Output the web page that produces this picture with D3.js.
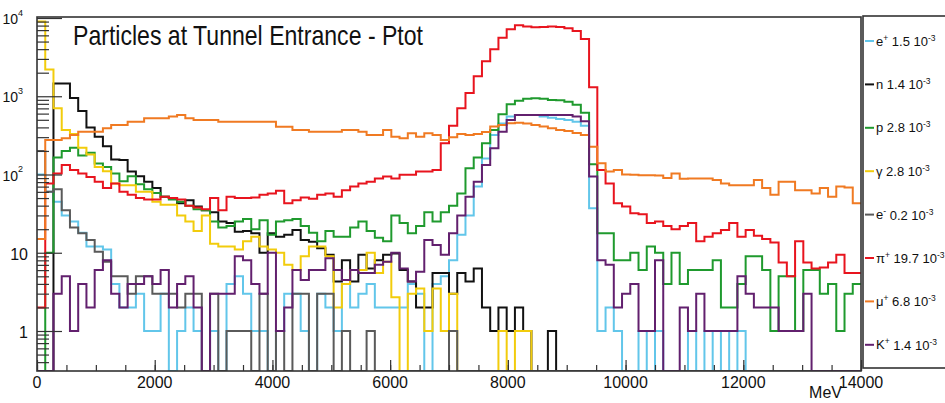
<!DOCTYPE html>
<html>
<head>
<meta charset="utf-8">
<script src="https://cdn.jsdelivr.net/npm/d3@7"></script>
<style>
  body { margin: 0; background: #fff; }
  text { font-family: "Liberation Sans Narrow", "Liberation Sans", Arial, sans-serif; fill: #111; }
</style>
</head>
<body>
<svg id="chart" width="945" height="403"></svg>
<script>
// Total momentum spectra at the tunnel entrance, 100 bins of 140 MeV from 0 to 14000 MeV.
const binWidth = 140;
const nBins = 100;

const ePlus = [
  100, 60, 45, 30, 25, 18, 12, 12, 11, 4,
  2, 2, 3, 1, 1, 3, 0, 1, 2, 1,
  0, 1, 0, 4, 5, 3, 1, 1, 0, 1,
  3, 3, 1, 0, 3, 2, 1, 4, 2, 3,
  4, 2, 2, 2, 2, 4, 3, 0, 4, 5,
  8, 17, 30, 70, 160, 320, 450, 550, 575, 575,
  575, 550, 530, 513, 497, 473, 420, 37, 1, 2,
  1, 0, 0, 1, 0, 1, 0, 0, 0, 1,
  0, 1, 0, 1, 0, 1, 0, 0, 0, 0,
  0, 0, 0, 0, 0, 0, 0, 0, 0, 0
];
const neutron = [
  0, 0, 1460, 1460, 950, 650, 400, 304, 230, 155,
  153, 109, 95, 81, 67, 52, 50, 43, 47, 39,
  35, 33, 25, 24, 18.6, 19, 17.7, 10, 17.7, 16,
  17, 19.5, 14.6, 13.8, 11.4, 9.4, 4.3, 8, 4.3, 9.4,
  6.3, 8, 9.4, 9.8, 6, 4.3, 2, 2, 5.5, 5.5,
  3, 5.5, 4.3, 6.3, 2, 1, 2, 1, 2, 1,
  0, 0, 1, 0, 0, 0, 0, 0, 0, 0,
  0, 0, 0, 0, 0, 0, 0, 0, 0, 0,
  0, 0, 0, 0, 0, 0, 0, 0, 0, 0,
  0, 0, 0, 0, 0, 0, 0, 0, 0, 0
];
const proton = [
  0, 10, 165, 200, 220, 175, 190, 138, 125, 103,
  82, 95, 75, 65, 58, 52, 48, 45, 40, 36,
  35, 25, 21, 22, 25, 27, 20, 26, 17, 25,
  26, 27, 22, 18, 14, 19, 16, 16, 21, 25,
  19, 15.5, 14, 30, 24, 17.7, 22, 33, 25, 33,
  40, 57, 120, 165, 250, 371, 590, 790, 875, 930,
  945, 930, 893, 888, 850, 780, 615, 135, 17.7, 17.7,
  8, 8, 10, 6, 12, 10, 4, 10, 4, 6,
  6, 6, 8, 2, 2, 4, 9, 9, 6, 1,
  5, 5, 1, 6, 6, 3, 4, 1, 3, 4
];
const gamma = [
  9000, 2200, 700, 370, 330, 220, 180, 125, 110, 77,
  73, 73, 60, 60, 45, 41, 41, 30, 25, 19,
  30, 13, 12, 12, 11, 14, 16, 12, 11, 10,
  7, 6, 9, 12, 12, 9, 2, 4, 6, 6,
  10, 5.5, 7.7, 2.7, 0, 3, 3.5, 1, 3.5, 1,
  3, 0, 0, 0, 0, 0, 1, 0, 1, 1,
  0, 0, 0, 0, 0, 0, 0, 0, 0, 0,
  0, 0, 0, 0, 0, 0, 0, 0, 0, 0,
  0, 0, 0, 0, 0, 0, 0, 0, 0, 0,
  0, 0, 0, 0, 0, 0, 0, 0, 0, 0
];
const eMinus = [
  200, 60, 65, 35, 21, 17.7, 14.6, 10.3, 7.7, 5,
  5, 3, 5, 5, 3, 3, 3, 2, 3, 3,
  0, 3, 0, 1, 1, 1, 0, 3, 0, 1,
  0, 3, 3, 0, 3, 3, 0, 1, 0, 0,
  1, 0, 0, 0, 0, 0, 0, 0, 0, 0,
  1, 0, 0, 0, 0, 0, 0, 0, 0, 0,
  0, 0, 0, 0, 0, 0, 0, 0, 0, 0,
  0, 0, 0, 0, 0, 0, 0, 0, 0, 0,
  0, 0, 0, 0, 0, 0, 0, 0, 0, 0,
  0, 0, 0, 0, 0, 0, 0, 0, 0, 0
];
const piPlus = [
  2, 77, 103, 132, 114, 103, 93, 81, 67, 77,
  60, 55, 50, 48, 48, 52, 50, 48, 40, 38,
  36, 50, 35, 52, 50, 50, 51, 55, 57, 62,
  43, 47, 51, 49, 55, 57, 52, 63, 70, 77,
  81, 89, 94, 89, 99, 99, 109, 109, 114, 250,
  420, 700, 1100, 1800, 2800, 4000, 5600, 7200, 8100, 7800,
  7600, 7700, 7800, 7700, 7400, 6800, 5400, 1300, 114, 77,
  43, 39, 32, 31, 24, 25, 22, 20, 22, 24,
  14, 16, 17.7, 19.5, 24, 16, 19.5, 16.5, 15, 13.5,
  7.5, 5, 14, 7.5, 6.3, 6.5, 7.5, 9.4, 5.5, 5.5
];
const muPlus = [
  15, 276, 276, 290, 320, 352, 352, 352, 390, 430,
  430, 473, 473, 522, 522, 522, 550, 575, 522, 497,
  497, 497, 473, 473, 473, 473, 473, 473, 473, 408,
  408, 370, 370, 352, 352, 352, 352, 370, 370, 352,
  320, 320, 370, 304, 290, 336, 304, 336, 320, 276,
  300, 330, 320, 330, 350, 410, 429, 452, 460, 450,
  430, 410, 390, 370, 360, 340, 320, 226, 139, 109,
  114, 100, 99, 98, 98, 97, 90, 103, 88, 89,
  89, 89, 85, 77, 73, 73, 73, 85, 67, 55,
  81, 81, 63, 63, 57, 67, 52, 70, 68, 43
];
const kPlus = [
  0, 0, 3, 5, 1, 4, 2, 6, 8, 3,
  2, 4, 4, 5, 4, 6, 2, 4, 5, 2,
  0, 3, 3, 3, 9, 8, 4, 3, 10, 1,
  2, 6, 4.5, 6, 6, 8.5, 6, 4.5, 6, 5.5,
  5.5, 7, 7.7, 10, 6.3, 4.3, 5.7, 14.6, 12.6, 9.4,
  17.7, 30, 52, 81, 132, 216, 352, 497, 575, 575,
  575, 575, 575, 575, 575, 550, 480, 94, 8, 7,
  2, 3, 4, 1, 1, 8, 0, 0, 2, 1,
  3, 1, 1, 1, 1, 5, 3, 2, 2, 2,
  1, 1, 1, 3, 0, 0, 0, 0, 0, 0
];

// Legend entries: particle symbol, charge superscript, rate mantissa (x 10^-3)
const seriesNames   = ["e", "n", "p", "\u03b3", "e", "\u03c0", "\u03bc", "K"];
const seriesCharges = ["+", "", "", "", "-", "+", "+", "+"];
const seriesRates   = ["1.5", "1.4", "2.8", "2.8", "0.2", "19.7", "6.8", "1.4"];
const seriesColors  = ["#62c6ea", "#111111", "#1f9a2e", "#f2cc0c", "#5a5a5a", "#e8141e", "#f07a22", "#62206e"];
const seriesValues  = [ePlus, neutron, proton, gamma, eMinus, piPlus, muPlus, kPlus];

const xTickLabels = [0, 2000, 4000, 6000, 8000, 10000, 12000, 14000];
const yDecades = [0, 1, 2, 3, 4];

const svg = d3.select("#chart");
const plotLeft = 37, plotRight = 861, plotTop = 17, plotBottom = 371;

const x = d3.scaleLinear().domain([0, 14000]).range([plotLeft, plotRight]);
const yMin = Math.pow(10, -40 / 78.25);
const yMax = Math.pow(10, 4 + 1 / 78.25);
const y = d3.scaleLog().domain([yMin, yMax]).range([plotBottom, plotTop]);

svg.append("rect").attr("width", 945).attr("height", 403).attr("fill", "#fff");

svg.append("defs").append("clipPath").attr("id", "plotClip")
  .append("rect").attr("x", plotLeft).attr("y", plotTop)
  .attr("width", plotRight - plotLeft).attr("height", plotBottom - plotTop);

// Histogram step lines
const line = d3.line().curve(d3.curveStepAfter).x(d => d[0]).y(d => d[1]);
const plot = svg.append("g").attr("clip-path", "url(#plotClip)");
seriesValues.forEach((vals, k) => {
  const pts = vals.map((v, i) => [x(i * binWidth), y(v > 0 ? v : yMin)]);
  pts.push([x(nBins * binWidth), y(vals[nBins - 1] > 0 ? vals[nBins - 1] : yMin)]);
  plot.append("path")
    .attr("d", line(pts))
    .attr("fill", "none")
    .attr("stroke", seriesColors[k])
    .attr("stroke-width", 2);
});

// Y axis ticks (log): long major ticks at decades, short minor ticks in between
const majorY = yDecades.map(d => Math.pow(10, d));
const minorY = [];
for (let d = -1; d <= 3; d++) {
  for (let m = 2; m <= 9; m++) {
    const v = m * Math.pow(10, d);
    if (v > yMin && v < yMax) minorY.push(v);
  }
}
const yMajorAxis = d3.axisRight(y).tickValues(majorY).tickSize(25).tickFormat("");
const yMinorAxis = d3.axisRight(y).tickValues(minorY).tickSize(12).tickFormat("");
[yMajorAxis, yMinorAxis].forEach(ax => {
  const g = svg.append("g").attr("transform", `translate(${plotLeft},0)`).call(ax);
  g.select(".domain").remove();
  g.selectAll(".tick line").attr("stroke", "#333").attr("stroke-width", 1.2);
});

// X axis ticks
const xMajorAxis = d3.axisTop(x).tickValues(d3.range(0, 14001, 2000)).tickSize(11).tickFormat("");
const xMinorAxis = d3.axisTop(x).tickValues(d3.range(0, 14001, 500)).tickSize(6).tickFormat("");
[xMajorAxis, xMinorAxis].forEach(ax => {
  const g = svg.append("g").attr("transform", `translate(0,${plotBottom})`).call(ax);
  g.select(".domain").remove();
  g.selectAll(".tick line").attr("stroke", "#333").attr("stroke-width", 1.2);
});

// Frame
svg.append("rect")
  .attr("x", plotLeft).attr("y", plotTop)
  .attr("width", plotRight - plotLeft).attr("height", plotBottom - plotTop)
  .attr("fill", "none").attr("stroke", "#333").attr("stroke-width", 1.6);

// Y labels: plain 1 and 10, then 10^n with a raised exponent
yDecades.forEach(d => {
  const yy = y(Math.pow(10, d)) + 1;
  if (d === 0 || d === 1) {
    svg.append("text").attr("x", 28).attr("y", yy).attr("dy", "0.36em")
      .attr("text-anchor", "end").attr("font-size", 16).text(d === 0 ? "1" : "10");
  } else {
    const t = svg.append("text").attr("x", 23).attr("y", yy).attr("dy", "0.36em")
      .attr("text-anchor", "end").attr("font-size", 14);
    t.append("tspan").text("10");
    t.append("tspan").attr("font-size", 9).attr("dy", "-0.9em").text(String(d));
  }
});

// X labels
xTickLabels.forEach(v => {
  svg.append("text").attr("x", x(v)).attr("y", 388)
    .attr("text-anchor", "middle").attr("font-size", 16).text(String(v));
});
svg.append("text").attr("x", 842).attr("y", 398).attr("text-anchor", "end")
  .attr("font-size", 16).text("MeV");

// Title
svg.append("text").attr("x", 73).attr("y", 45).attr("font-size", 28)
  .attr("textLength", 350).attr("lengthAdjust", "spacingAndGlyphs")
  .text("Particles at Tunnel Entrance - Ptot");

// Legend
const lg = svg.append("g");
lg.append("rect").attr("x", 863).attr("y", 16).attr("width", 100).attr("height", 352)
  .attr("fill", "#fff").attr("stroke", "#333").attr("stroke-width", 1.6);
seriesNames.forEach((name, k) => {
  const cy = 41 + 43.4 * k;
  lg.append("line").attr("x1", 865).attr("x2", 874).attr("y1", cy).attr("y2", cy)
    .attr("stroke", seriesColors[k]).attr("stroke-width", 2);
  const t = lg.append("text").attr("x", 876).attr("y", cy).attr("dy", "0.36em").attr("font-size", 13);
  t.append("tspan").text(name);
  if (seriesCharges[k]) t.append("tspan").attr("font-size", 8.5).attr("dy", "-0.6em").text(seriesCharges[k]);
  t.append("tspan").attr("dy", seriesCharges[k] ? "0.42em" : 0).text(" " + seriesRates[k] + " 10");
  t.append("tspan").attr("font-size", 8.5).attr("dy", "-0.6em").text("-3");
});
</script>
</body>
</html>
